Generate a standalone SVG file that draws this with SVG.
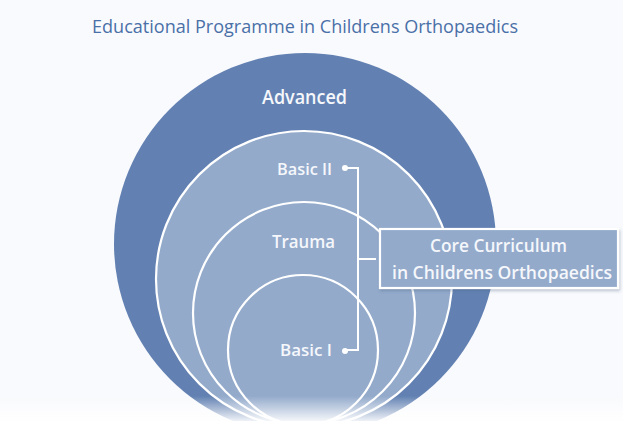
<svg xmlns="http://www.w3.org/2000/svg" width="623" height="421" viewBox="0 0 623 421">
  <defs>
    <style>
      .ring { fill: #93aacb; stroke: #ffffff; stroke-width: 2.2; }
      .lbl { font-family: "Open Sans", "Liberation Sans", sans-serif; font-weight: 600; fill: #f5f7fb; }
      .conn { fill: none; stroke: #ffffff; stroke-width: 2; }
      .dot { fill: #ffffff; }
    </style>
    <linearGradient id="fade" x1="0" y1="0" x2="0" y2="1">
      <stop offset="0" stop-color="#ffffff" stop-opacity="0"/>
      <stop offset="1" stop-color="#ffffff" stop-opacity="0.9"/>
    </linearGradient>
    <filter id="sh" x="-10%" y="-20%" width="120%" height="150%">
      <feDropShadow dx="1" dy="2" stdDeviation="1.5" flood-color="#4a5f80" flood-opacity="0.35"/>
    </filter>
  </defs>
  <rect width="623" height="421" fill="#f9fafd"/>
  <text x="92" y="33" font-family="'Open Sans', 'Liberation Sans', sans-serif" font-size="19" fill="#4a70a8" textLength="426" lengthAdjust="spacingAndGlyphs">Educational Programme in Childrens Orthopaedics</text>

  <g id="advanced">
    <circle cx="305" cy="244" r="191" fill="#6281b2"/>
    <text class="lbl" x="262" y="104" font-size="19" textLength="85" lengthAdjust="spacingAndGlyphs">Advanced</text>
  </g>
  <g id="basic2">
    <circle class="ring" cx="304" cy="279" r="148"/>
    <text class="lbl" x="277" y="175" font-size="17" textLength="55" lengthAdjust="spacingAndGlyphs">Basic II</text>
  </g>
  <g id="trauma">
    <circle class="ring" cx="304" cy="313" r="111"/>
    <text class="lbl" x="272" y="248" font-size="18" textLength="63" lengthAdjust="spacingAndGlyphs">Trauma</text>
  </g>
  <g id="basic1">
    <circle class="ring" cx="303" cy="350" r="75"/>
    <text class="lbl" x="280" y="356" font-size="17" textLength="52" lengthAdjust="spacingAndGlyphs">Basic I</text>
  </g>

  <rect x="0" y="396" width="623" height="25" fill="url(#fade)"/>

  <g id="connectors">
    <path class="conn" d="M345 168 H358 V350 H345 M358 259 H376"/>
    <circle class="dot" cx="345" cy="168" r="3"/>
    <circle class="dot" cx="345" cy="351" r="3"/>
  </g>

  <g id="core">
    <rect x="380" y="229" width="238" height="59" fill="#93aacb" stroke="#ffffff" stroke-width="2.2" filter="url(#sh)"/>
    <text class="lbl" x="430" y="252" font-size="18" font-weight="400" textLength="137" lengthAdjust="spacingAndGlyphs">Core Curriculum</text>
    <text class="lbl" x="392" y="279" font-size="18" font-weight="400" textLength="220" lengthAdjust="spacingAndGlyphs">in Childrens Orthopaedics</text>
  </g>
</svg>
